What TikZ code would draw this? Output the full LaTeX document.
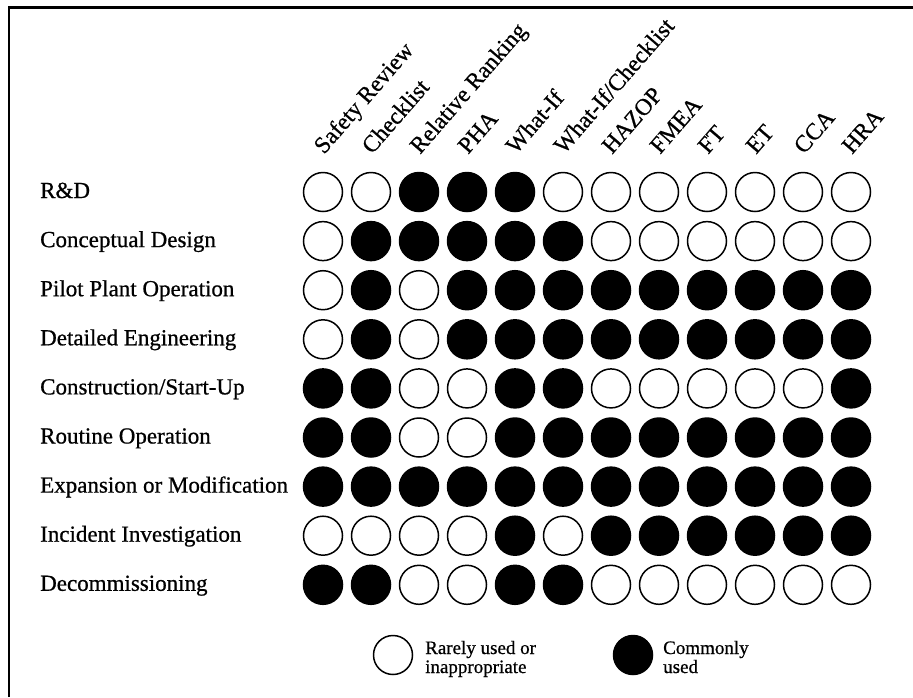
\documentclass[tikz,border=0pt]{standalone}
\usepackage{fontspec}
\setmainfont{Liberation Serif}[FakeBold=0.7]
\begin{document}
\begin{tikzpicture}[x=1pt,y=-1pt,
  dot/.style={circle,draw=black,line width=1.5pt,minimum size=39pt,inner sep=0pt},
  on/.style={dot,fill=black},
  off/.style={dot,fill=white},
  rowlab/.style={anchor=base west,font=\fontsize{23}{27}\selectfont,inner sep=0pt},
  collab/.style={anchor=base west,rotate=49,font=\fontsize{23.5}{27}\selectfont,inner sep=0pt},
  legtext/.style={anchor=base west,font=\fontsize{19}{22}\selectfont,inner sep=0pt}]
\useasboundingbox (0,0) rectangle (913,697);
\draw[line width=2.2pt] (9,697) -- (9,7.5) -- (913,7.5);
% column headers
\foreach \t [count=\c] in {Safety Review,Checklist,Relative Ranking,PHA,What-If,What-If/Checklist,HAZOP,FMEA,FT,ET,CCA,HRA}{
  \node[collab] (h\c) at ({323+(\c-1)*48+1},155) {\t};
}
% rows
\foreach \lab/\pat [count=\r] in {
  {R\&D}/{0,0,1,1,1,0,0,0,0,0,0,0},
  {Conceptual Design}/{0,1,1,1,1,1,0,0,0,0,0,0},
  {Pilot Plant Operation}/{0,1,0,1,1,1,1,1,1,1,1,1},
  {Detailed Engineering}/{0,1,0,1,1,1,1,1,1,1,1,1},
  {Construction/Start-Up}/{1,1,0,0,1,1,0,0,0,0,0,1},
  {Routine Operation}/{1,1,0,0,1,1,1,1,1,1,1,1},
  {Expansion or Modification}/{1,1,1,1,1,1,1,1,1,1,1,1},
  {Incident Investigation}/{0,0,0,0,1,0,1,1,1,1,1,1},
  {Decommissioning}/{1,1,0,0,1,1,0,0,0,0,0,0}}{
  \node[rowlab] (r\r) at (40,{192+(\r-1)*49.1+6}) {\lab};
  \foreach \v [count=\c] in \pat {
    \ifnum\v=1
      \node[on] (d\r-\c) at ({323+(\c-1)*48},{192+(\r-1)*49.1}) {};
    \else
      \node[off] (d\r-\c) at ({323+(\c-1)*48},{192+(\r-1)*49.1}) {};
    \fi
  }
}
% legend
\node[off] (legoff) at (393,655) {};
\node[legtext] (legoffa) at (425,654) {Rarely used or};
\node[legtext] (legoffb) at (425,673) {inappropriate};
\node[on] (legon) at (633,655) {};
\node[legtext] (legona) at (663,654) {Commonly};
\node[legtext] (legonb) at (663,673) {used};
\end{tikzpicture}
\end{document}
